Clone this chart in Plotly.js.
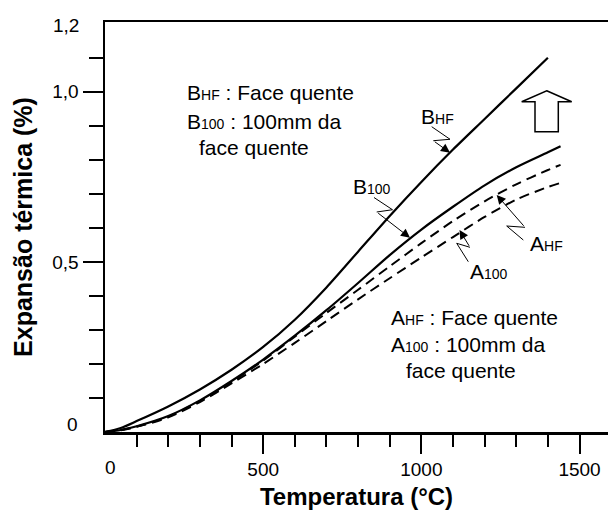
<!DOCTYPE html>
<html>
<head>
<meta charset="utf-8">
<script src="https://cdn.plot.ly/plotly-3.0.1.min.js"></script>
<style>html,body{margin:0;padding:0;background:#fff;}#chart{width:608px;height:513px;}</style>
</head>
<body>
<div id="chart"></div>
<script>
// ---- data ----
const tempBHF = [0,50,100,200,300,400,500,600,700,800,900,1000,1100,1200,1300,1400];
const expBHF  = [0,0.012,0.032,0.075,0.125,0.183,0.25,0.33,0.425,0.53,0.635,0.735,0.83,0.92,1.01,1.10];

const tempB100 = [0,50,100,200,300,400,500,600,700,800,900,1000,1100,1200,1300,1400,1440];
const expB100  = [0,0.006,0.017,0.047,0.093,0.15,0.213,0.283,0.358,0.438,0.52,0.595,0.662,0.725,0.778,0.822,0.84];

const tempAHF = [0,50,100,200,300,400,500,600,700,800,900,1000,1100,1200,1300,1400,1440];
const expAHF  = [0,0.006,0.016,0.045,0.091,0.147,0.21,0.28,0.35,0.418,0.487,0.555,0.62,0.678,0.728,0.77,0.785];

const tempA100 = [0,50,100,200,300,400,500,600,700,800,900,1000,1100,1200,1300,1400,1440];
const expA100  = [0,0.005,0.015,0.043,0.088,0.143,0.2,0.262,0.326,0.39,0.452,0.513,0.573,0.632,0.683,0.72,0.732];

const xTickVals = [500,1000,1500];
const xTickText = ['500','1000','1500'];
const xMinorVals = [100,200,300,400,600,700,800,900,1100,1200,1300,1400];
const yTickVals = [0.5,1.0];
const yTickText = ['0,5','1,0'];
const yMinorVals = [0.1,0.2,0.3,0.4,0.6,0.7,0.8,0.9,1.1];

// ---- layout geometry ----
const W = 608, H = 513;
const M = {l:105, r:0, t:22, b:81};
const XR = [0,1590], YR = [0,1.205];
const pw = W - M.l - M.r, ph = H - M.t - M.b;
// pixel -> data helpers for decorations
const dx = px => XR[0] + (px - M.l) / pw * (XR[1]-XR[0]);
const dy = py => YR[0] + (H - M.b - py) / ph * (YR[1]-YR[0]);
const path = pts => pts.map((p,i)=>(i?'L':'M')+dx(p[0]).toFixed(2)+','+dy(p[1]).toFixed(4)).join(' ') ;
function dxp(px){ return (px - M.l)/pw; }
function dyp(py){ return (H - M.b - py)/ph; }

const FONT = 'Arial, "Liberation Sans", Helvetica, sans-serif';
const lineW = 2.2;

const traces = [
  {x: tempBHF, y: expBHF, mode:'lines', line:{color:'#000', width:lineW, shape:'spline', smoothing:0.8}, name:'B_HF'},
  {x: tempB100, y: expB100, mode:'lines', line:{color:'#000', width:lineW, shape:'spline', smoothing:0.8}, name:'B_100'},
  {x: tempAHF, y: expAHF, mode:'lines', line:{color:'#000', width:2, dash:'10px,6px', shape:'spline', smoothing:0.8}, name:'A_HF'},
  {x: tempA100, y: expA100, mode:'lines', line:{color:'#000', width:2, dash:'10px,6px', shape:'spline', smoothing:0.8}, name:'A_100'}
];

const sub = s => '<span style="font-size:14px">'+s+'</span>';

function txt(text, px, py, anchor, size){
  return {text:text, xref:'x', yref:'y', x:dx(px), y:dy(py), xanchor:anchor||'left', yanchor:'middle',
          showarrow:false, font:{family:FONT, size:size||21, color:'#000'}};
}
function head(tip, from){
  return {text:'', xref:'x', yref:'y', axref:'x', ayref:'y', x:dx(tip[0]), y:dy(tip[1]), ax:dx(from[0]), ay:dy(from[1]),
          showarrow:true, arrowhead:2, arrowsize:1.8, arrowwidth:1, arrowcolor:'#000', standoff:0, startstandoff:0};
}

// leaders: [label end, zig, zag, arrow tip]
const leadBHF  = [[431.7,126.7],[450,139.3],[433.3,140.7],[450,152.7]];
const leadB100 = [[374,197.5],[392.5,209.7],[376.7,212],[410,237.8]];
const leadAHF  = [[523.3,240],[506.7,226],[525,227.3],[496.7,195]];
const leadA100 = [[468.3,261.7],[456.7,243.3],[470,247.3],[459.5,230]];

const leaders = [leadBHF, leadB100, leadAHF, leadA100];

const shapes = leaders.map(l => ({type:'path', xref:'x', yref:'y', path:path(l.slice(0,3)), line:{color:'#000', width:1}}));
// hollow upward arrow
shapes.push({type:'path', xref:'x', yref:'y',
  path: path([[546.7,90.7],[571.7,101.7],[558.3,101.7],[558.3,131.7],[535,131.7],[535,101.7],[521.7,101.7]]) + ' Z',
  line:{color:'#000', width:1.5}, fillcolor:'rgba(0,0,0,0)'});

const annotations = [
  txt('B'+sub('HF')+' : Face quente', 185, 92),
  txt('B'+sub('100')+' : 100mm da', 185, 121),
  txt('face quente', 197, 147),
  txt('A'+sub('HF')+' : Face quente', 389, 317),
  txt('A'+sub('100')+' : 100mm da', 389, 344),
  txt('face quente', 404, 370),
  txt('B'+sub('HF'), 419, 116),
  txt('B'+sub('100'), 351, 186),
  txt('A'+sub('HF'), 528, 243),
  txt('A'+sub('100'), 468, 271),
  // axis end labels
  {text:'1,2', xref:'paper', yref:'paper', x:dxp(81), y:dyp(25), xanchor:'right', yanchor:'middle', showarrow:false, font:{family:FONT, size:19, color:'#000'}},
  {text:'0', xref:'paper', yref:'paper', x:dxp(80), y:dyp(424), xanchor:'right', yanchor:'middle', showarrow:false, font:{family:FONT, size:19, color:'#000'}},
  {text:'0', xref:'paper', yref:'paper', x:dxp(110), y:dyp(467), xanchor:'center', yanchor:'middle', showarrow:false, font:{family:FONT, size:19, color:'#000'}}
].concat(leaders.map(l => head(l[3], l[2])));

const layout = {
  width:W, height:H, margin:M, showlegend:false,
  paper_bgcolor:'#fff', plot_bgcolor:'#fff',
  font:{family:FONT, color:'#000'},
  xaxis:{range:XR, showline:true, linecolor:'#000', linewidth:2.5, mirror:true,
    ticks:'outside', ticklen:19, tickwidth:2, tickcolor:'#000',
    tickmode:'array', tickvals:xTickVals, ticktext:xTickText, tickfont:{family:FONT, size:19, color:'#000'},
    minor:{tickmode:'array', tickvals:xMinorVals, ticks:'outside', ticklen:12, tickwidth:2, tickcolor:'#000', showgrid:false},
    showgrid:false, zeroline:false,
    title:{text:'<b>Temperatura (°C)</b>', font:{family:FONT, size:24, color:'#000'}, standoff:9}},
  yaxis:{range:YR, showline:true, linecolor:'#000', linewidth:2.5, mirror:false,
    ticks:'outside', ticklen:20, tickwidth:2, tickcolor:'#000',
    tickmode:'array', tickvals:yTickVals, ticktext:yTickText, tickfont:{family:FONT, size:19, color:'#000'},
    minor:{tickmode:'array', tickvals:yMinorVals, ticks:'outside', ticklen:14, tickwidth:2, tickcolor:'#000', showgrid:false},
    showgrid:false, zeroline:false,
    title:{text:'<b>Expansão térmica (%)</b>', font:{family:FONT, size:25, color:'#000'}, standoff:13}},
  shapes:shapes, annotations:annotations
};

Plotly.newPlot('chart', traces, layout, {staticPlot:true, displayModeBar:false});
</script>
</body>
</html>
